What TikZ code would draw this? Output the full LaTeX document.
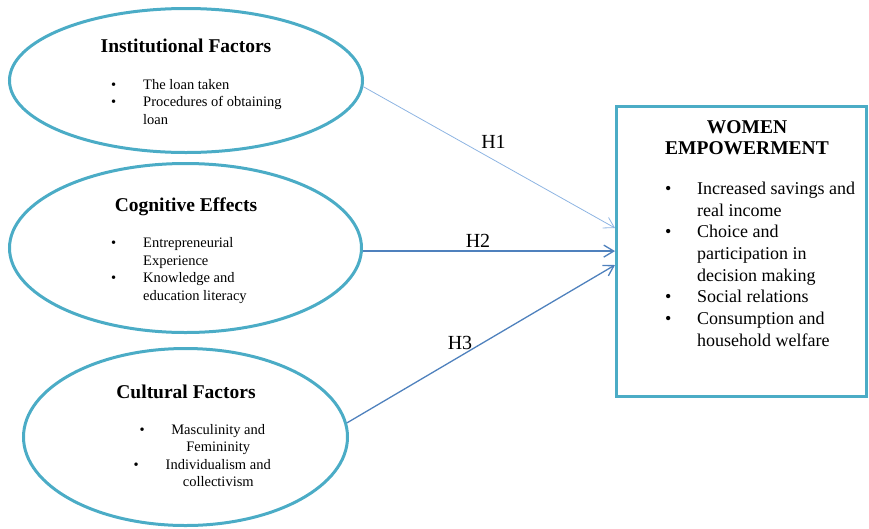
\documentclass[tikz,border=0pt]{standalone}
\usepackage{fontspec}
\setmainfont{Liberation Serif}
\usetikzlibrary{calc,positioning,arrows.meta,shapes.geometric}
\definecolor{aqua}{HTML}{4BACC6}
\definecolor{paleblue}{HTML}{8DB4E2}
\definecolor{midblue}{HTML}{4F81BD}

\begin{document}
\begin{tikzpicture}
          [ x=1pt, y=-1pt,
            factor/.style={
              ellipse,
              draw=aqua,
              line width=3pt,
              inner sep=0pt},
            outcome/.style={
              rectangle,
              draw=aqua,
              line width=3pt,
              inner sep=0pt},
            heading/.style={
              font=\bfseries\fontsize{19.5}{21}\selectfont,
              inner sep=0pt,
              anchor=base},
            items/.style={
              font=\fontsize{14.5}{17.5}\selectfont,
              inner sep=0pt,
              anchor=base west},
            bigitems/.style={
              font=\fontsize{18}{21.7}\selectfont,
              inner sep=0pt,
              anchor=base west},
            hlabel/.style={
              font=\fontsize{20}{24}\selectfont,
              inner sep=0pt},
            line/.style={
              draw,
              -{Straight Barb[length=10pt,width=12pt]},
            },
          ]

          \useasboundingbox (0,0) rectangle (869,528);

          % the three factors
          \node (inst) [factor, minimum width=353pt, minimum height=144pt] at (186,80.5) {};
          \node (cogn) [factor, minimum width=352pt, minimum height=169pt] at (185.5,248) {};
          \node (cult) [factor, minimum width=324pt, minimum height=177pt] at (185.5,437) {};

          \node (insttitle) [heading] at (186,52.7) {Institutional Factors};
          \node (instlist) [items] at (111,89.3) {\begin{tabular}[t]{@{}p{32pt}@{}l@{}}
              \textbullet & The loan taken\\
              \textbullet & Procedures of obtaining\\
                          & loan
            \end{tabular}};

          \node (cogntitle) [heading] at (186,211) {Cognitive Effects};
          \node (cognlist) [items] at (111,247.7) {\begin{tabular}[t]{@{}p{32pt}@{}l@{}}
              \textbullet & Entrepreneurial\\
                          & Experience\\
              \textbullet & Knowledge and\\
                          & education literacy
            \end{tabular}};

          \node (culttitle) [heading] at (186,398.3) {Cultural Factors};
          \node (cultlist) [items] at (133.5,434.3) {\begin{tabular}[t]{@{}p{32pt}@{}c@{}}
              \hspace*{6pt}\textbullet & Masculinity and\\
                                       & Femininity\\
              \textbullet              & Individualism and\\
                                       & collectivism
            \end{tabular}};

          % the outcome
          \node (women) [outcome, minimum width=250pt, minimum height=290pt] at (741.5,251.5) {};
          \node (womentitle) [heading] at (747,133) {\begin{tabular}[t]{@{}c@{}}
              WOMEN\\
              EMPOWERMENT
            \end{tabular}};
          \node (womenlist) [bigitems] at (665,194.3) {\begin{tabular}[t]{@{}p{32pt}@{}l@{}}
              \textbullet & Increased savings and\\
                          & real income\\
              \textbullet & Choice and\\
                          & participation in\\
                          & decision making\\
              \textbullet & Social relations\\
              \textbullet & Consumption and\\
                          & household welfare
            \end{tabular}};

          % hypotheses
          \draw[line, paleblue, line width=.8pt] (inst.-2) -- ($(women.west)+(0,-23.5)$);
          \draw[line, midblue, line width=1.3pt] (cogn.-1) -- (women.west |- cogn.-1);
          \draw[line, midblue, line width=1.3pt] (cult.5) -- ($(women.west)+(0,13.5)$);

          \node (h1) [hlabel] at (493.5,141.5) {H1};
          \node (h2) [hlabel] at (478,240.5) {H2};
          \node (h3) [hlabel] at (460,342.5) {H3};

        \end{tikzpicture}
\end{document}
